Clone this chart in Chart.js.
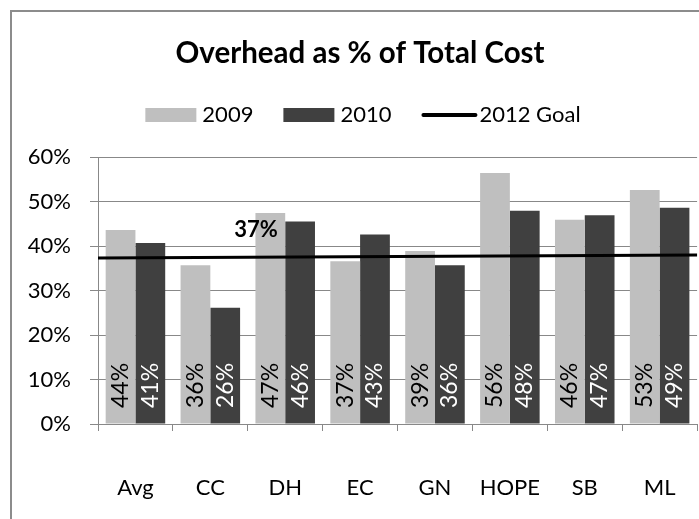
<!DOCTYPE html>
<html>
<head>
<meta charset="utf-8">
<title>Overhead as % of Total Cost</title>
<script src="https://cdn.jsdelivr.net/npm/chart.js@4.4.1/dist/chart.umd.min.js"></script>
<style>
  html, body { margin: 0; padding: 0; background: #fff; overflow: hidden; }
  #wrap { position: relative; width: 699px; height: 519px; overflow: hidden; }
  #frame { position: absolute; left: 10px; top: 10px; width: 800px; height: 600px; border: 2px solid #8c8c8c; box-sizing: border-box; }
  #overheadChart { position: absolute; left: 0; top: 0; }
</style>
</head>
<body>
<div id="wrap">
  <div id="frame"></div>
  <canvas id="overheadChart" width="720" height="519"></canvas>
</div>
<script>
const chartTitle = 'Overhead as % of Total Cost';
const categories = ['Avg', 'CC', 'DH', 'EC', 'GN', 'HOPE', 'SB', 'ML'];
const values2009 = [43.6, 35.7, 47.4, 36.6, 38.9, 56.4, 45.9, 52.6];
const values2010 = [40.7, 26.1, 45.5, 42.6, 35.7, 47.9, 46.9, 48.6];
// goal line runs edge to edge of the plot: value at the left and right edge
const goalValues = [37.3, 38.0];
const goalLabelAt = 1.61;   // in category units
const yMin = 0, yMax = 60, yStep = 10;

const FONT = 'Lato, "Open Sans", sans-serif';

// value labels, title and legend drawn the way Excel does them
const excelBits = {
  id: 'excelBits',
  afterDatasetsDraw(chart) {
    const ctx = chart.ctx;
    const x = chart.scales.x;
    const y = chart.scales.y;

    ctx.save();
    ctx.font = '23px ' + FONT;
    ctx.textAlign = 'left';
    ctx.textBaseline = 'middle';
    chart.data.datasets.forEach((ds, di) => {
      if (ds.type === 'line') return;
      chart.getDatasetMeta(di).data.forEach((bar, i) => {
        ctx.save();
        ctx.translate(bar.x, y.getPixelForValue(0) - 16);
        ctx.rotate(-Math.PI / 2);
        ctx.fillStyle = ds.labelColor;
        ctx.fillText(Math.round(ds.data[i]) + '%', 0, 0);
        ctx.restore();
      });
    });

    const t = (goalLabelAt + 0.5) / categories.length;
    const gv = goalValues[0] + (goalValues[1] - goalValues[0]) * t;
    ctx.font = 'bold 22px ' + FONT;
    ctx.textAlign = 'center';
    ctx.textBaseline = 'alphabetic';
    ctx.fillStyle = '#000';
    ctx.fillText(Math.round(goalValues[0]) + '%', x.getPixelForValue(goalLabelAt), y.getPixelForValue(gv) - 20);
    ctx.restore();
  },
  afterDraw(chart) {
    const ctx = chart.ctx;
    ctx.save();
    ctx.fillStyle = '#000';
    ctx.font = 'bold 29.5px ' + FONT;
    ctx.textAlign = 'center';
    ctx.textBaseline = 'alphabetic';
    ctx.fillText(chartTitle, 360, 63);

    // legend: bars first, then the goal line
    ctx.font = '22px ' + FONT;
    ctx.textAlign = 'left';
    ctx.textBaseline = 'middle';
    const items = chart.data.datasets.map(ds => {
      const isLine = ds.type === 'line';
      return {
        label: ds.label,
        isLine: isLine,
        color: isLine ? ds.borderColor : ds.backgroundColor,
        symW: isLine ? 56 : 51,
        gap: isLine ? 2 : 6
      };
    }).sort((a, b) => a.isLine - b.isLine);
    const itemGap = 30;
    let total = 0;
    items.forEach((it, i) => {
      it.w = it.symW + it.gap + ctx.measureText(it.label).width;
      total += it.w + (i ? itemGap : 0);
    });
    let lx = 363 - total / 2;
    const ly = 115;
    items.forEach(it => {
      if (it.isLine) {
        ctx.strokeStyle = it.color;
        ctx.lineWidth = 4;
        ctx.lineCap = 'round';
        ctx.beginPath();
        ctx.moveTo(lx + 2, ly);
        ctx.lineTo(lx + it.symW - 2, ly);
        ctx.stroke();
      } else {
        ctx.fillStyle = it.color;
        ctx.fillRect(lx, ly - 7, it.symW, 14);
      }
      ctx.fillStyle = '#000';
      ctx.fillText(it.label, lx + it.symW + it.gap, ly);
      lx += it.w + itemGap;
    });
    ctx.restore();
  }
};

new Chart(document.getElementById('overheadChart'), {
  type: 'bar',
  data: {
    labels: categories,
    datasets: [
      { label: '2009', data: values2009, backgroundColor: '#bfbfbf', labelColor: '#000', order: 1 },
      { label: '2010', data: values2010, backgroundColor: '#404040', labelColor: '#fff', order: 1 },
      {
        type: 'line',
        label: '2012 Goal',
        parsing: false,
        data: [
          { x: -0.5, y: goalValues[0] },
          { x: categories.length - 0.5, y: goalValues[1] }
        ],
        borderColor: '#000',
        borderWidth: 3,
        pointRadius: 0,
        fill: false,
        order: 0
      }
    ]
  },
  options: {
    responsive: false,
    animation: false,
    devicePixelRatio: 1,
    layout: { padding: { top: 157, left: 0, right: 8, bottom: 0 } },
    datasets: {
      bar: { categoryPercentage: 0.795, barPercentage: 1.0 }
    },
    plugins: {
      legend: { display: false },
      title: { display: false },
      tooltip: { enabled: false }
    },
    scales: {
      x: {
        type: 'category',
        offset: true,
        grid: { offset: true, drawOnChartArea: false, drawTicks: true, tickLength: 7, color: '#888', lineWidth: 1 },
        border: { color: '#888', width: 1 },
        ticks: { color: '#000', font: { family: FONT, size: 22 }, padding: 44, maxRotation: 0, autoSkip: false },
        afterFit(scale) { scale.height = 95; }
      },
      y: {
        type: 'linear',
        min: yMin,
        max: yMax,
        ticks: { stepSize: yStep, callback: v => v + '%', color: '#000', font: { family: FONT, size: 22 }, padding: 19 },
        grid: { color: '#888', tickLength: 8, lineWidth: 1 },
        border: { color: '#888', width: 1 },
        afterFit(scale) { scale.width = 98; }
      }
    }
  },
  plugins: [excelBits]
});
</script>
</body>
</html>
